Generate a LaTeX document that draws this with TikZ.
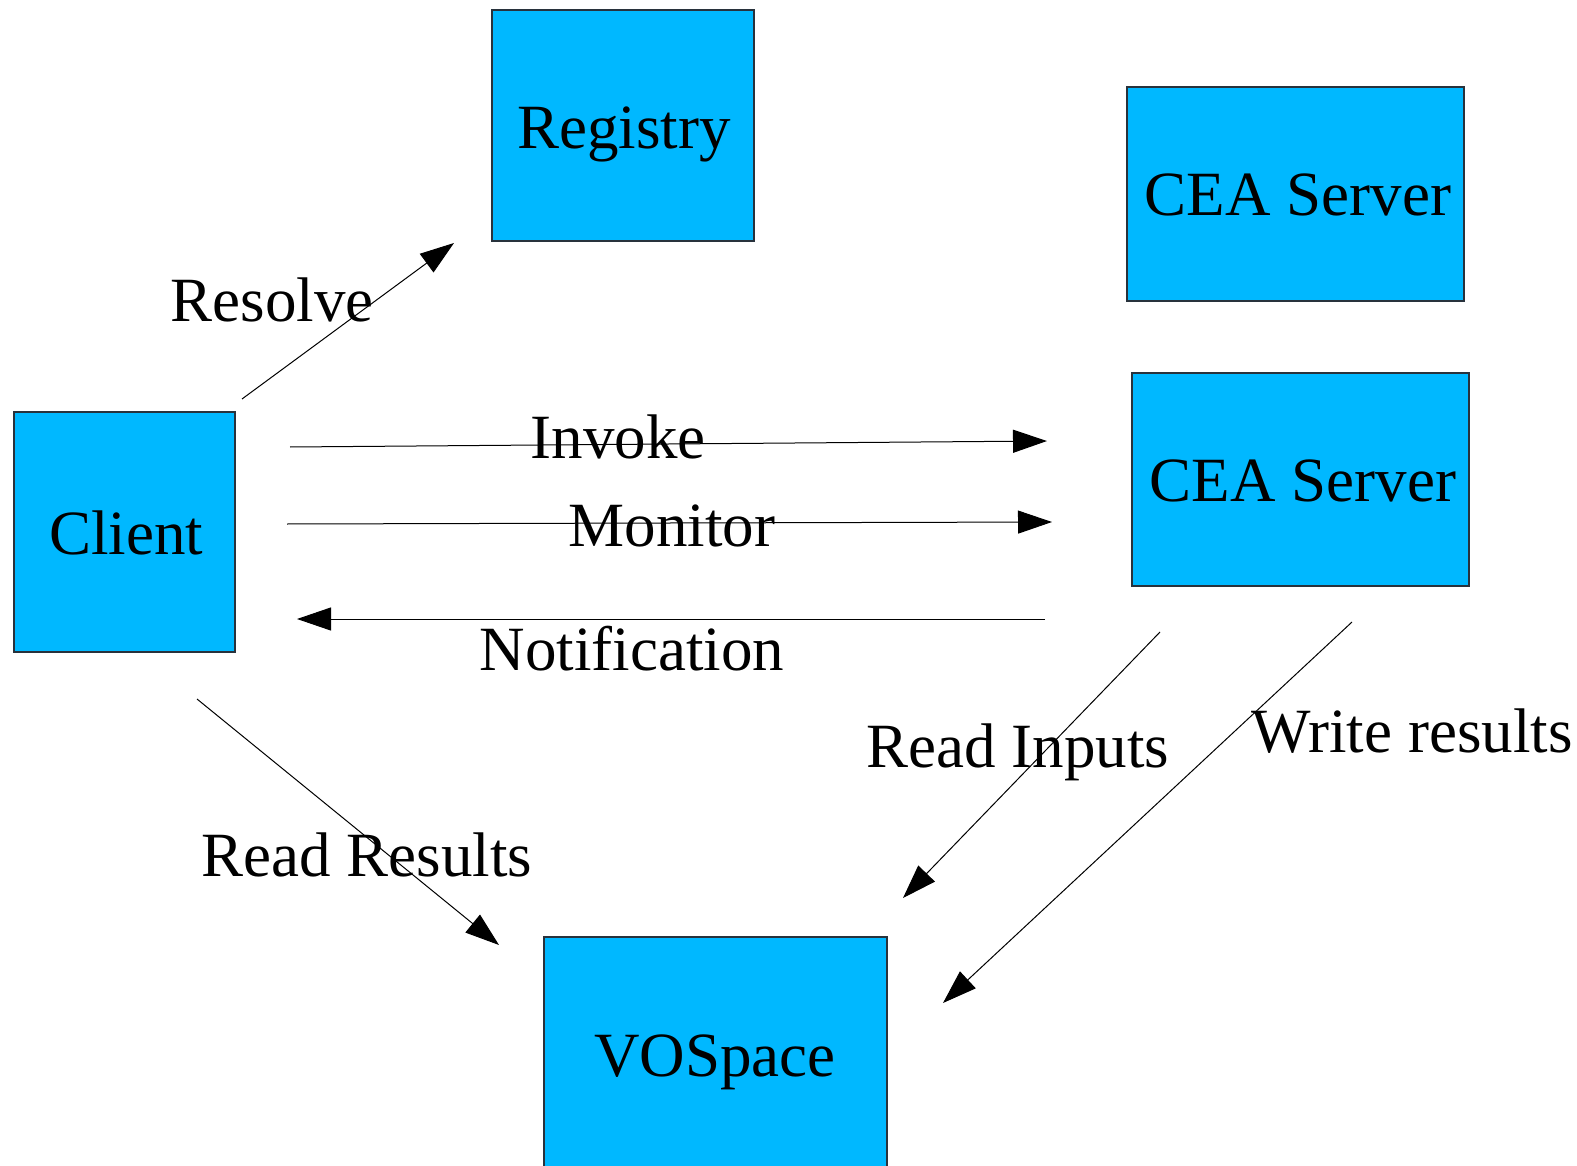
\documentclass[tikz,border=0pt]{standalone}
\usepackage{fontspec}
\setmainfont{Liberation Serif}
\usetikzlibrary{arrows.meta}
\definecolor{boxblue}{RGB}{0,184,255}
\definecolor{edgegray}{RGB}{40,50,60}
\begin{document}
\begin{tikzpicture}[x=1pt,y=-1pt,
  box/.style={draw=edgegray,line width=1.3pt,fill=boxblue},
  lbl/.style={anchor=base,inner sep=0pt,font=\fontsize{63}{76}\selectfont},
  conn/.style={line width=1pt,-{Triangle[length=34pt,width=23pt]}}]
\useasboundingbox (0,0) rectangle (1577,1166);
\fill[white] (0,0) rectangle (1577,1166);
% boxes
\draw[box] (14,412) rectangle (235,652);
\draw[box] (492,10) rectangle (754,241);
\draw[box] (1127,87) rectangle (1464,301);
\draw[box] (1132,373) rectangle (1469,586);
\draw[box] (544,937) rectangle (887,1200);
% box labels
\node[lbl] (client) at (126,554) {Client};
\node[lbl] (registry) at (624,149) {Registry};
\node[lbl] (cea1) at (1298,216) {CEA Server};
\node[lbl] (cea2) at (1303,501) {CEA Server};
\node[lbl] (vospace) at (715,1076) {VOSpace};
% connector end points
\coordinate (rs) at (242,399); \coordinate (re) at (454,243);
\coordinate (is) at (290,447); \coordinate (ie) at (1047,441);
\coordinate (ms) at (287,524); \coordinate (me) at (1052,522);
\coordinate (ns) at (1045,619); \coordinate (ne) at (297,619);
\coordinate (rrs) at (197,699); \coordinate (rre) at (499,945);
\coordinate (ris) at (1160,632); \coordinate (rie) at (903,898);
\coordinate (ws) at (1352,622); \coordinate (we) at (943,1003);
% connectors
\draw[conn] (rs) -- (re);
\draw[conn] (is) -- (ie);
\draw[conn] (ms) -- (me);
\draw[conn] (ns) -- (ne);
\draw[conn] (rrs) -- (rre);
\draw[conn] (ris) -- (rie);
\draw[conn] (ws) -- (we);
% connector labels
\node[lbl] (lresolve) at (272,322) {Resolve};
\node[lbl] (linvoke) at (618,458) {Invoke};
\node[lbl] (lmonitor) at (672,546) {Monitor};
\node[lbl] (lnotif) at (632,670) {Notification};
\node[lbl] (lreadin) at (1018,767) {Read Inputs};
\node[lbl] (lwrite) at (1412,752) {Write results};
\node[lbl] (lreadres) at (367,876) {Read Results};
\end{tikzpicture}
\end{document}
